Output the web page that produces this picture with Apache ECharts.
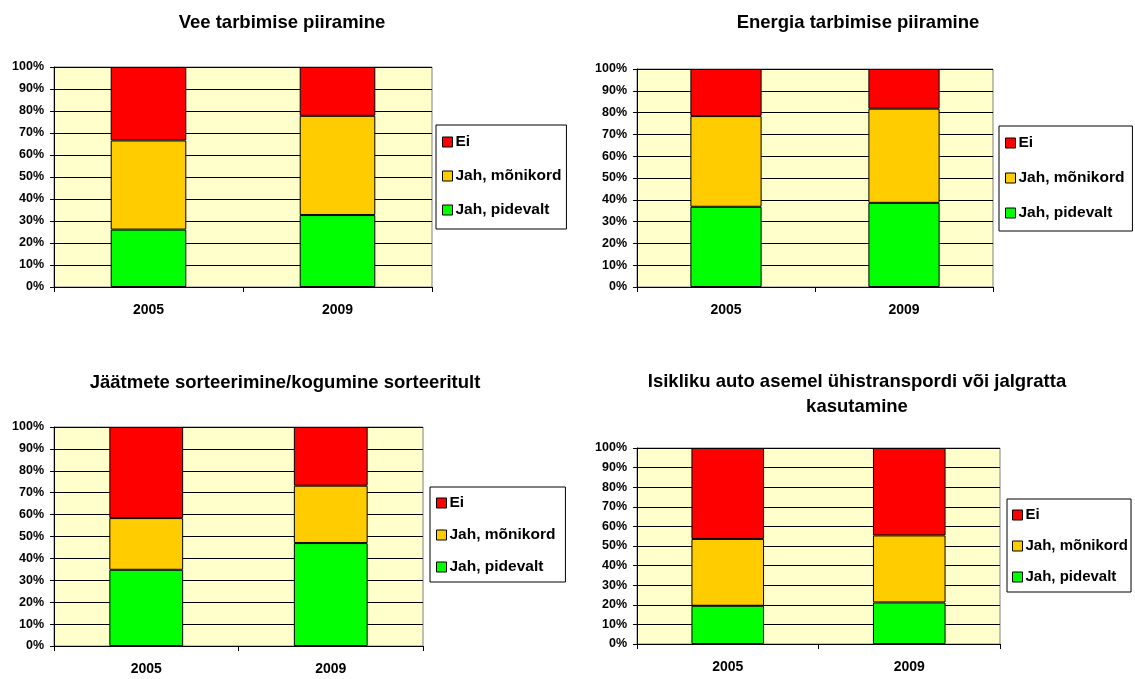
<!DOCTYPE html>
<html>
<head>
<meta charset="utf-8">
<script src="https://cdn.jsdelivr.net/npm/echarts@6/dist/echarts.min.js"></script>
<style>
html,body{margin:0;padding:0;background:#fff;}
#c{width:1135px;height:679px;}
</style>
</head>
<body>
<div id="c"></div>
<script>
// ---- data ----
const categories = ['2005', '2009'];
const seriesNames = ['Jah, pidevalt', 'Jah, mõnikord', 'Ei'];
const legendOrder = ['Ei', 'Jah, mõnikord', 'Jah, pidevalt'];
const yTickLabels = ['0%','10%','20%','30%','40%','50%','60%','70%','80%','90%','100%'];

const title1 = 'Vee tarbimise piiramine';
const vee_pidevalt = [26.1, 32.7];
const vee_monikord = [40.5, 45.1];
const vee_ei = [33.4, 22.2];

const title2 = 'Energia tarbimise piiramine';
const energia_pidevalt = [36.8, 38.6];
const energia_monikord = [41.6, 43.2];
const energia_ei = [21.6, 18.2];

const title3 = 'Jäätmete sorteerimine/kogumine sorteeritult';
const jaatmed_pidevalt = [34.8, 47.0];
const jaatmed_monikord = [23.6, 26.2];
const jaatmed_ei = [41.6, 26.8];

const title4 = 'Isikliku auto asemel ühistranspordi või jalgratta\nkasutamine';
const auto_pidevalt = [19.5, 21.2];
const auto_monikord = [34.1, 34.2];
const auto_ei = [46.4, 44.6];

const colors = ['#00FF00', '#FFCC00', '#FF0000'];

// ---- layout ----
const FONT = '"Liberation Sans", Arial, sans-serif';
const panels = [
  {title: title1, data: [vee_pidevalt, vee_monikord, vee_ei],
   grid: {left: 54, top: 67, width: 378, height: 220}, titlePos: {x: 277, y: 5},
   legend: {left: 436, top: 125, pad: [9, 5, 11, 6], gap: 18, font: 15.5}},
  {title: title2, data: [energia_pidevalt, energia_monikord, energia_ei],
   grid: {left: 637, top: 69, width: 356, height: 218}, titlePos: {x: 853, y: 5},
   legend: {left: 999, top: 126, pad: [9, 8, 10, 6], gap: 19, font: 15.5}},
  {title: title3, data: [jaatmed_pidevalt, jaatmed_monikord, jaatmed_ei],
   grid: {left: 54, top: 427, width: 369, height: 219}, titlePos: {x: 280, y: 365},
   legend: {left: 430, top: 487, pad: [8, 10, 7, 6], gap: 16, font: 15.5}},
  {title: title4, data: [auto_pidevalt, auto_monikord, auto_ei],
   grid: {left: 637, top: 448, width: 363, height: 196}, titlePos: {x: 852, y: 364},
   legend: {left: 1007, top: 499, pad: [8, 3, 7, 5], gap: 15, font: 15}}
];

const option = {
  animation: false,
  backgroundColor: '#ffffff',
  textStyle: {fontFamily: FONT},
  title: [], grid: [], xAxis: [], yAxis: [], legend: [], series: []
};

panels.forEach((p, i) => {
  option.title.push({
    text: p.title, left: p.titlePos.x, top: p.titlePos.y, textAlign: 'center',
    textStyle: {fontFamily: FONT, fontSize: 18.5, fontWeight: 'bold', color: '#000', lineHeight: 25}
  });
  option.grid.push({
    left: p.grid.left, top: p.grid.top, width: p.grid.width, height: p.grid.height,
    show: true, backgroundColor: '#FFFFCC', borderColor: '#808080', borderWidth: 1
  });
  option.xAxis.push({
    type: 'category', gridIndex: i, data: categories, boundaryGap: true,
    axisLine: {lineStyle: {color: '#000', width: 1}},
    axisTick: {show: true, length: 5, alignWithLabel: false, lineStyle: {color: '#000'}},
    axisLabel: {margin: 16, fontFamily: FONT, fontSize: 14, fontWeight: 'bold', color: '#000'},
    splitLine: {show: false}
  });
  option.yAxis.push({
    type: 'value', gridIndex: i, min: 0, max: 100, interval: 10,
    axisLine: {show: true, lineStyle: {color: '#000', width: 1}},
    axisTick: {show: true, length: 4, lineStyle: {color: '#000'}},
    axisLabel: {margin: 10, fontFamily: FONT, fontSize: 12.5, fontWeight: 'bold', color: '#000',
      formatter: (v) => yTickLabels[Math.round(v / 10)]},
    splitLine: {show: true, lineStyle: {color: '#000', width: 1}}
  });
  option.legend.push({
    orient: 'vertical', left: p.legend.left, top: p.legend.top,
    data: legendOrder, icon: 'rect', itemWidth: 10, itemHeight: 10, itemGap: p.legend.gap,
    padding: p.legend.pad, backgroundColor: '#fff', borderColor: '#000', borderWidth: 1,
    borderRadius: 0, selectedMode: false,
    itemStyle: {borderColor: '#000', borderWidth: 1},
    textStyle: {fontFamily: FONT, fontSize: p.legend.font, fontWeight: 'bold', color: '#000', lineHeight: 16, padding: [0,0,0,-2]}
  });
  seriesNames.forEach((name, k) => {
    option.series.push({
      name: name, type: 'bar', stack: 'stack' + i, xAxisIndex: i, yAxisIndex: i,
      data: p.data[k], barCategoryGap: '60%',
      itemStyle: {color: colors[k], borderColor: '#000', borderWidth: 1}
    });
  });
});

const chart = echarts.init(document.getElementById('c'), null, {renderer: 'canvas'});
chart.setOption(option);
</script>
</body>
</html>
